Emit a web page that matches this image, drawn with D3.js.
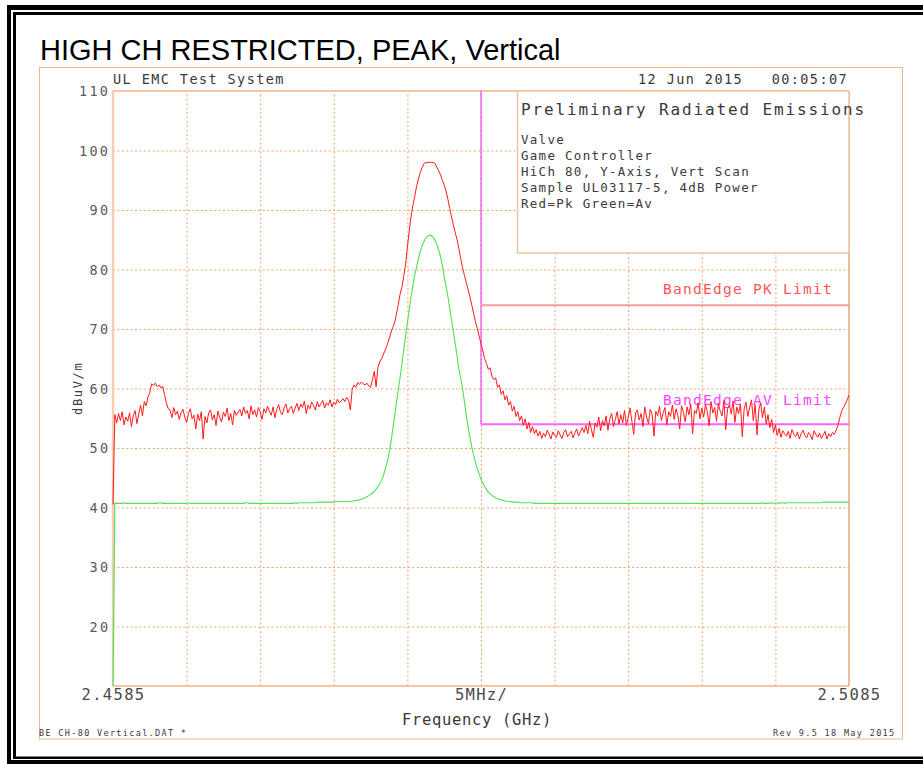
<!DOCTYPE html>
<html><head><meta charset="utf-8">
<script src="https://cdn.jsdelivr.net/npm/d3@7"></script>
<style>body{margin:0;background:#fff} svg{display:block} text{white-space:pre}</style>
</head><body><svg id="c" width="923" height="765"></svg>
<script>
// ---------------- DATA ----------------
const chartTitle = "HIGH CH RESTRICTED, PEAK, Vertical";
const headerLeft = "UL EMC Test System";
const headerRight = "12 Jun 2015   00:05:07";
const footerLeft = "BE CH-80 Vertical.DAT *";
const footerRight = "Rev 9.5 18 May 2015";
const yLabel = "dBuV/m";
const xLabel = "Frequency (GHz)";
const legendTitle = "Preliminary Radiated Emissions";
const legendLines = ["Valve", "Game Controller", "HiCh 80, Y-Axis, Vert Scan", "Sample UL03117-5, 4dB Power", "Red=Pk Green=Av"];

const freqStart = 2.4585, freqEnd = 2.5085, freqDiv = 0.005;
const yMin = 10, yMax = 110;
const yTicks = [20, 30, 40, 50, 60, 70, 80, 90, 100, 110];
const xTickFreqs = [2.4585, 2.4835, 2.5085];
const xTickLabels = ["2.4585", "5MHz/", "2.5085"];

const limitNames = ["BandEdge PK Limit", "BandEdge AV Limit"];
const limitValues = [74, 54];
const limitStart = 2.4835, limitEnd = 2.5085;

// Both traces: one value every 0.125 MHz from 2.4585 GHz
const sweepStep = 0.000125;

// Peak trace (red)
const peakValues = [40.5,
55.6,54.2,55.8,54.6,56.1,53.9,55.2,54.5,55.9,53.6,55.4,56.3,54.1,55.7,
57.2,55.4,57.8,57.1,58.6,59.3,
60.8,60.5,60.9,60.3,60.6,60.1,60.4,
59.0,57.6,56.6,
56.4,55.1,56.8,55.6,56.2,54.8,55.9,56.5,55.2,54.3,
55.8,56.6,54.9,55.5,53.2,55.7,54.6,56.1,51.5,55.3,
54.2,55.9,56.4,54.7,55.6,53.8,56.2,55.1,54.4,56.0,
55.3,56.7,54.6,55.8,53.9,56.3,55.5,56.0,
56.5,55.4,56.9,55.8,56.3,54.9,57.1,55.6,56.4,55.2,
56.8,56.1,54.8,56.6,55.9,57.0,56.2,55.5,56.9,55.1,
56.5,57.3,56.0,55.6,56.8,57.4,55.9,56.6,57.0,55.8,
56.7,57.5,
56.3,57.4,56.8,57.9,55.8,57.2,56.6,57.7,57.1,56.4,
57.8,56.9,57.5,58.0,56.7,57.6,57.2,58.1,56.9,57.7,
57.3,58.2,57.6,57.9,58.3,
57.8,58.5,58.1,56.4,59.9,
60.6,60.2,61.0,60.7,61.1,60.8,60.6,60.9,60.4,60.2,
61.5,62.9,60.3,63.6,64.5,
65.0,65.8,66.5,67.3,68.3,69.3,70.2,71.0,72.5,74.0,
75.8,77.0,78.8,80.8,83.8,86.5,89.0,90.8,92.3,94.0,
95.2,96.3,97.1,97.8,98.0,98.0,98.0,98.0,98.0,97.8,
97.2,96.6,95.9,95.0,94.2,93.2,91.8,90.3,88.8,87.5,
86.2,85.0,83.5,81.8,80.3,79.0,77.8,76.6,75.4,74.0,
72.6,71.2,70.1,68.8,67.5,66.3,65.0,64.2,63.2,63.5,
62.0,61.5,61.8,60.2,60.6,59.0,59.6,58.1,58.8,57.2,
57.8,56.2,57.0,55.3,56.1,54.6,55.4,53.8,54.9,53.2,
54.3,52.6,53.6,52.4,53.1,
52.0,52.8,51.6,52.5,51.9,53.0,52.3,51.5,52.7,52.1,
51.8,52.9,52.2,51.6,52.6,53.1,51.9,52.4,52.8,51.7,
52.5,53.2,52.0,52.7,53.4,
52.6,53.8,52.4,54.5,53.1,51.8,54.2,53.5,55.2,52.9,
54.6,53.7,55.4,53.0,54.9,55.8,53.6,54.8,56.1,54.0,
55.6,54.2,56.3,53.8,55.1,56.7,54.5,52.3,55.9,56.4,
54.7,55.8,53.6,56.9,55.2,54.1,56.5,55.7,52.0,56.2,
55.4,57.0,54.6,55.9,56.8,53.9,56.1,55.3,57.2,54.8,
56.6,55.5,53.2,57.1,56.0,54.4,56.9,55.6,57.4,52.4,
56.3,55.8,57.6,54.9,56.7,55.2,57.3,56.1,53.7,57.8,
55.9,56.8,54.5,57.5,56.2,55.4,58.0,53.1,56.6,57.2,
55.7,57.9,54.3,56.9,55.8,57.4,51.9,56.5,57.7,55.3,
56.8,58.1,54.6,57.3,52.2,56.4,57.6,55.1,56.9,54.0,
55.6,
53.4,54.8,52.6,53.9,52.1,53.3,51.8,52.9,52.4,
52.0,52.8,51.6,53.1,52.3,51.9,52.7,51.5,52.4,53.0,
52.1,51.7,52.6,52.2,51.4,52.9,52.3,51.8,52.5,51.6,
52.2,52.8,51.5,52.4,51.9,52.6,52.3,
53.0,53.8,55.1,56.2,56.8,57.4,58.1,58.9];

// Average trace (green)
const avgValues = [10,
40.7,40.7,40.7,40.7,40.7,40.8,40.7,40.7,40.7,40.7,
40.7,40.7,40.7,40.7,40.7,40.7,40.7,40.7,40.7,40.7,
40.7,40.7,40.7,40.7,40.8,40.8,40.7,40.7,40.7,40.7,
40.7,40.7,40.7,40.7,40.7,40.7,40.7,40.7,40.7,40.7,
40.8,40.7,40.7,40.7,40.7,40.7,40.7,40.7,40.7,40.7,
40.7,40.7,40.7,40.7,40.7,40.7,40.7,40.7,40.7,40.7,
40.7,40.7,40.7,40.7,40.7,40.7,40.7,40.7,40.7,40.7,
40.7,40.8,40.8,40.7,40.7,40.7,40.7,40.7,40.7,40.7,
40.7,40.7,40.7,40.7,40.7,40.7,40.7,40.7,40.7,40.7,
40.7,40.7,40.7,40.7,40.7,40.7,40.7,40.7,40.8,40.7,
40.8,40.8,40.8,40.8,40.8,40.8,40.8,40.8,40.8,40.8,
40.9,40.9,40.9,40.9,40.9,40.9,40.9,40.9,40.9,40.9,
41.0,41.0,41.0,41.0,41.0,41.0,
41.0,41.0,41.0,41.1,41.1,41.2,41.2,41.3,41.4,41.5,
41.6,41.8,42.0,42.2,42.4,42.7,43.1,43.5,44.0,44.6,
45.4,46.5,47.6,49.0,50.9,53.0,55.2,57.5,59.7,61.8,
64.1,66.5,68.8,71.0,73.3,75.5,77.3,79.0,80.5,81.8,
83.0,84.0,84.7,85.3,85.6,85.8,85.7,85.4,84.9,84.2,
83.3,82.2,80.6,78.8,77.2,75.5,73.5,71.5,69.5,67.5,
65.4,63.3,61.7,60.0,57.7,55.5,53.6,51.8,50.2,48.8,
47.6,46.5,45.6,44.8,44.1,43.5,43.0,42.6,42.3,42.0,
41.8,41.6,41.5,41.4,41.3,41.2,41.1,41.1,41.0,41.0,
40.9,40.9,40.9,40.9,
40.8,40.8,40.8,40.8,40.8,40.8,40.8,40.8,40.7,40.7,
40.7,40.7,40.7,40.7,40.7,40.7,40.7,40.7,40.7,40.7,
40.7,40.7,40.7,40.7,40.7,40.7,40.7,40.7,40.7,40.7,
40.7,40.7,40.7,40.7,40.7,40.7,40.7,40.7,40.7,40.7,
40.7,40.7,40.7,40.7,40.7,40.7,40.7,40.7,40.7,40.7,
40.7,40.7,40.7,40.7,40.7,40.7,40.7,40.7,40.7,40.7,
40.7,40.7,40.7,40.7,40.7,40.7,40.7,40.7,40.7,40.7,
40.7,40.7,40.7,40.7,40.7,40.7,40.7,40.7,40.7,40.7,
40.7,40.7,40.7,40.7,40.7,40.7,40.7,40.7,40.7,40.7,
40.7,40.7,40.7,40.7,40.7,40.7,40.7,40.7,40.7,40.7,
40.7,40.7,40.7,40.7,40.7,40.7,40.7,40.7,40.7,40.7,
40.7,40.7,40.7,40.7,40.7,40.7,40.7,40.7,40.7,40.7,
40.7,40.7,40.7,40.7,40.7,40.7,40.7,40.7,40.7,40.7,
40.7,40.7,40.8,40.7,40.7,40.7,40.8,40.7,40.8,40.7,
40.8,40.7,40.8,40.8,40.7,40.8,40.8,40.8,40.8,40.8,
40.8,40.8,40.8,40.8,40.8,40.8,40.8,40.8,40.8,40.8,
40.8,40.8,40.8,40.8,40.8,40.9,40.9,40.9,40.9,40.9,
40.9,40.9,40.9,40.9,40.9,40.9,40.9,40.9,40.9,40.9];

// ---------------- DRAWING ----------------
const svg = d3.select("#c");
const W = 923, H = 765;
const plot = {l: 113, r: 849, t: 91, b: 686};
const mono = "'DejaVu Sans Mono', 'Liberation Mono', monospace";
const txtCol = "#3a3a3a";

const x = d3.scaleLinear().domain([freqStart, freqEnd]).range([plot.l, plot.r]);
const y = d3.scaleLinear().domain([yMin, yMax]).range([plot.b, plot.t]);

svg.append("rect").attr("width", W).attr("height", H).attr("fill", "#fff");

// outer black double frame
const blk = svg.append("g").attr("fill", "#000");
blk.append("rect").attr("x", 7).attr("y", 5).attr("width", W - 7).attr("height", 5);
blk.append("rect").attr("x", 7).attr("y", 5).attr("width", 4).attr("height", 759);
blk.append("rect").attr("x", 7).attr("y", 760).attr("width", W - 7).attr("height", 4);
blk.append("rect").attr("x", 13).attr("y", 12).attr("width", W - 13).attr("height", 3);
blk.append("rect").attr("x", 13).attr("y", 12).attr("width", 3).attr("height", 747);
blk.append("rect").attr("x", 13).attr("y", 756.5).attr("width", W - 13).attr("height", 2.5);

// Title
svg.append("text").attr("x", 40).attr("y", 60)
  .attr("font-family", "'Liberation Sans', Arial, sans-serif").attr("font-size", 29)
  .attr("fill", "#000").text(chartTitle);

// page frame
svg.append("rect").attr("x", 39.5).attr("y", 67.5).attr("width", 863).attr("height", 671.5)
  .attr("fill", "none").attr("stroke", "#e8b890").attr("stroke-width", 1);

// grid via axes
const gridStyle = g => {
  g.select(".domain").remove();
  g.selectAll(".tick line").attr("stroke", "#f0a468").attr("stroke-width", 1).attr("stroke-dasharray", "2,2.4");
  g.selectAll(".tick text").remove();
};
const xGridVals = d3.range(1, 10).map(k => freqStart + k * freqDiv);
svg.append("g").attr("transform", `translate(0,${plot.b})`)
  .call(d3.axisBottom(x).tickValues(xGridVals).tickSize(-(plot.b - plot.t)).tickFormat(""))
  .call(gridStyle);
svg.append("g").attr("transform", `translate(${plot.l},0)`)
  .call(d3.axisLeft(y).tickValues(yTicks.filter(v => v < yMax)).tickSize(-(plot.r - plot.l)).tickFormat(""))
  .call(gridStyle);

// plot frame
svg.append("line").attr("x1", plot.l).attr("x2", plot.r).attr("y1", plot.t).attr("y2", plot.t).attr("stroke", "#f2c6a6").attr("stroke-width", 2);
svg.append("line").attr("x1", plot.l).attr("x2", plot.r).attr("y1", plot.b).attr("y2", plot.b).attr("stroke", "#f2c6a6").attr("stroke-width", 2);
svg.append("line").attr("x1", plot.l).attr("x2", plot.l).attr("y1", plot.t).attr("y2", plot.b).attr("stroke", "#f4cdb2").attr("stroke-width", 2.5);
svg.append("line").attr("x1", plot.r).attr("x2", plot.r).attr("y1", plot.t).attr("y2", plot.b).attr("stroke", "#e8a47a").attr("stroke-width", 1.5);

// y tick labels
const yAx = svg.append("g").attr("transform", `translate(${plot.l - 5},0)`)
  .call(d3.axisLeft(y).tickValues(yTicks).tickSize(0).tickPadding(0).tickFormat(d3.format("d")));
yAx.select(".domain").remove();
yAx.selectAll(".tick text").attr("font-family", mono).attr("font-size", 13.5)
  .attr("fill", "#5a5a5a").attr("letter-spacing", 2.3).attr("dx", 2.3).attr("dy", "0.36em");

// x tick labels
const xAx = svg.append("g").attr("transform", `translate(0,${plot.b})`)
  .call(d3.axisBottom(x).tickValues(xTickFreqs).tickSize(0).tickPadding(0)
    .tickFormat((d, i) => xTickLabels[i]));
xAx.select(".domain").remove();
xAx.selectAll(".tick text").attr("font-family", mono).attr("font-size", 15.5)
  .attr("fill", "#4a4a4a").attr("letter-spacing", 1.3).attr("dy", null).attr("y", 14);

// helper text
function mtext(xp, yp, s, size, ls, col, anchor) {
  return svg.append("text").attr("x", xp).attr("y", yp).attr("font-family", mono)
    .attr("font-size", size).attr("letter-spacing", ls).attr("fill", col || txtCol)
    .attr("text-anchor", anchor || "start").attr("xml:space", "preserve").text(s);
}
mtext(113, 84, headerLeft, 13.5, 1.42);
mtext(638, 84, headerRight, 13.5, 1.42);
mtext(402, 725, xLabel, 15.5, 0.67);
mtext(39, 736, footerLeft, 8.5, 1.33);
mtext(773, 736, footerRight, 8.5, 1.33);
svg.append("text").attr("transform", "translate(81.5,415) rotate(-90)")
  .attr("font-family", mono).attr("font-size", 12).attr("letter-spacing", 1.68)
  .attr("fill", txtCol).text(yLabel);

// legend box
svg.append("rect").attr("x", 517.5).attr("y", plot.t).attr("width", plot.r - 517.5).attr("height", 162)
  .attr("fill", "#fff").attr("stroke", "#efc3a3").attr("stroke-width", 1.5);
mtext(521, 115, legendTitle, 16, 1.87);
legendLines.forEach((s, i) => mtext(521, 143.5 + i * 16, s, 12.5, 1.28));

// limit lines
svg.append("line").attr("x1", x(limitStart)).attr("x2", x(limitStart))
  .attr("y1", y(yMax)).attr("y2", y(limitValues[1]))
  .attr("stroke", "#ee44ee").attr("stroke-width", 1.2);
const limCols = ["#ff9a9a", "#ff66ff"];
const limTextCols = ["#ff5555", "#ff44ff"];
limitValues.forEach((v, i) => {
  svg.append("line").attr("x1", x(limitStart)).attr("x2", x(limitEnd))
    .attr("y1", y(v)).attr("y2", y(v)).attr("stroke", limCols[i]).attr("stroke-width", 2);
});
limitNames.forEach((s, i) => {
  mtext(663, [294, 405][i], s, 14.5, 1.27, limTextCols[i]);
});

// traces
const peakData = peakValues.map((v, i) => [freqStart + i * sweepStep, v]);
const avgData = avgValues.map((v, i) => [freqStart + i * sweepStep, v]);
const line = d3.line().x(d => x(d[0])).y(d => y(d[1]));
svg.append("path").datum(avgData).attr("d", line).attr("fill", "none")
  .attr("stroke", "#50e050").attr("stroke-width", 1.1);
svg.append("path").datum(peakData).attr("d", line).attr("fill", "none")
  .attr("stroke", "#ff1a1a").attr("stroke-width", 1);
</script></body></html>
